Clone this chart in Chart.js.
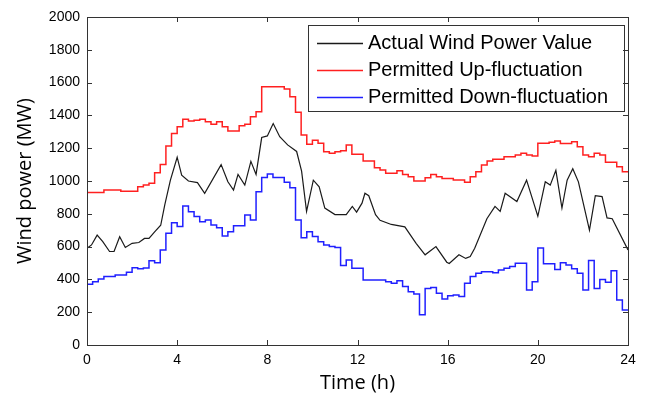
<!DOCTYPE html>
<html>
<head>
<meta charset="utf-8">
<script src="https://cdn.jsdelivr.net/npm/chart.js@4/dist/chart.umd.min.js"></script>
<style>
  html, body { margin: 0; padding: 0; background: #fff; }
  #wrap { width: 645px; height: 398px; }
</style>
</head>
<body>
<div id="wrap"><canvas id="wind"></canvas></div>
<script>
// Actual wind power (black line), hour / MW pairs
const actualHours = [0, 0.2, 0.45, 0.7, 1.0, 1.2, 1.45, 1.7, 2.0, 2.3, 2.55, 2.75, 3.0, 3.27, 3.45, 3.7,
    4.0, 4.2, 4.5, 4.9, 5.22, 5.95, 6.25, 6.5, 6.7, 7.0, 7.27, 7.5, 7.75, 8.0, 8.26, 8.55,
    8.9, 9.3, 9.52, 9.74, 10.04, 10.3, 10.55, 11.0, 11.5, 11.77, 11.96, 12.2, 12.33, 12.5, 12.8, 13.0,
    13.5, 14.1, 14.6, 15.0, 15.48, 15.96, 16.07, 16.5, 16.8, 17.0, 17.2, 17.74, 18.1, 18.33, 18.55, 19.07,
    19.5, 20.0, 20.33, 20.55, 20.8, 21.07, 21.3, 21.55, 21.8, 22.29, 22.55, 22.85, 23.07, 23.3, 24.0];
const actualValues = [590, 610, 670, 630, 570, 570, 660, 595, 620, 625, 650, 650, 690, 730, 855, 1005,
    1145, 1035, 1000, 990, 925, 1100, 995, 945, 1040, 975, 1120, 1040, 1265, 1275, 1350, 1270,
    1220, 1180, 1060, 815, 1005, 965, 835, 795, 795, 845, 810, 865, 925, 910, 795, 760,
    735, 720, 620, 550, 600, 505, 497, 550, 528, 540, 590, 770, 845, 815, 925, 875,
    1005, 785, 995, 975, 1065, 835, 1005, 1075, 995, 700, 910, 905, 775, 770, 580];

// Permitted up / down fluctuation, one value per 15 min step (96 steps)
const upValues = [930, 930, 930, 945, 945, 945, 937, 937, 937, 965, 975, 986,
    1050, 1100, 1213, 1290, 1331, 1376, 1366, 1371, 1376, 1362, 1346, 1362,
    1331, 1305, 1305, 1337, 1346, 1392, 1423, 1575, 1575, 1575, 1575, 1561,
    1514, 1419, 1280, 1224, 1248, 1230, 1179, 1169, 1179, 1185, 1220, 1163,
    1163, 1122, 1122, 1081, 1067, 1047, 1047, 1063, 1040, 1026, 1000, 1000,
    1020, 1040, 1026, 1016, 1016, 1006, 1006, 992, 1026, 1057, 1098, 1122,
    1132, 1132, 1148, 1148, 1158, 1169, 1158, 1152, 1230, 1230, 1236, 1244,
    1228, 1228, 1240, 1209, 1158, 1148, 1169, 1158, 1114, 1114, 1087, 1057];
const downValues = [370, 386, 402, 417, 417, 427, 427, 443, 471, 465, 470, 514,
    502, 579, 681, 746, 722, 848, 813, 783, 752, 762, 732, 715,
    665, 691, 727, 727, 793, 762, 935, 1022, 1043, 1022, 1022, 992,
    959, 762, 654, 691, 661, 630, 610, 600, 595, 484, 518, 468,
    468, 396, 396, 396, 396, 386, 376, 392, 356, 325, 311, 185,
    345, 350, 315, 280, 300, 305, 295, 376, 417, 437, 447, 447,
    441, 457, 468, 478, 498, 498, 335, 386, 592, 495, 495, 460,
    502, 488, 465, 437, 335, 516, 345, 400, 382, 452, 274, 213];
const stepHours = upValues.map((_, i) => i / 4).concat([24]);

const xTicks = [0, 4, 8, 12, 16, 20, 24];
const yTicks = [0, 200, 400, 600, 800, 1000, 1200, 1400, 1600, 1800, 2000];

const seriesNames = ['Actual Wind Power Value', 'Permitted Up-fluctuation', 'Permitted Down-fluctuation'];
const seriesColors = ['#1a1a1a', '#ff2020', '#2020ff'];

const pairs = (xs, ys) => xs.map((x, i) => ({ x, y: ys[Math.min(i, ys.length - 1)] }));

// MATLAB-like frame: box round the plot with inward ticks on every side
const framePlugin = {
    id: 'frame',
    afterDraw(chart) {
        const { ctx, chartArea: a, scales } = chart;
        ctx.save();
        ctx.strokeStyle = '#333';
        ctx.lineWidth = 1;
        ctx.strokeRect(a.left + 0.5, a.top + 0.5, a.right - a.left, a.bottom - a.top);
        ctx.beginPath();
        xTicks.forEach((v) => {
            const px = Math.round(scales.x.getPixelForValue(v)) + 0.5;
            ctx.moveTo(px, a.bottom); ctx.lineTo(px, a.bottom - 5);
            ctx.moveTo(px, a.top); ctx.lineTo(px, a.top + 5);
        });
        yTicks.forEach((v) => {
            const py = Math.round(scales.y.getPixelForValue(v)) + 0.5;
            ctx.moveTo(a.left, py); ctx.lineTo(a.left + 5, py);
            ctx.moveTo(a.right, py); ctx.lineTo(a.right - 5, py);
        });
        ctx.stroke();
        ctx.restore();
    },
};

// legend box in the upper right corner of the plot
const legendPlugin = {
    id: 'boxLegend',
    afterDatasetsDraw(chart) {
        const { ctx } = chart;
        const box = { x: 308.5, y: 25.5, w: 316, h: 86 };
        ctx.save();
        ctx.fillStyle = '#fff';
        ctx.fillRect(box.x, box.y, box.w, box.h);
        ctx.strokeStyle = '#333';
        ctx.lineWidth = 1;
        ctx.strokeRect(box.x, box.y, box.w, box.h);
        ctx.font = '20px "Liberation Sans", Arial, sans-serif';
        ctx.textBaseline = 'middle';
        chart.data.datasets.forEach((ds, i) => {
            const cy = 43 + i * 27;
            ctx.strokeStyle = ds.borderColor;
            ctx.lineWidth = 1.3;
            ctx.beginPath();
            ctx.moveTo(317, cy + 0.5); ctx.lineTo(363, cy + 0.5);
            ctx.stroke();
            ctx.fillStyle = '#000';
            ctx.fillText(ds.label, 368, cy);
        });
        ctx.restore();
    },
};

new Chart(document.getElementById('wind').getContext('2d'), {
    type: 'line',
    data: {
        datasets: [
            { label: seriesNames[0], data: pairs(actualHours, actualValues), borderColor: seriesColors[0], borderWidth: 1.2 },
            { label: seriesNames[1], data: pairs(stepHours, upValues), borderColor: seriesColors[1], borderWidth: 1.5, stepped: 'before' },
            { label: seriesNames[2], data: pairs(stepHours, downValues), borderColor: seriesColors[2], borderWidth: 1.5, stepped: 'before' },
        ],
    },
    plugins: [framePlugin, legendPlugin],
    options: {
        responsive: true,
        maintainAspectRatio: false,
        animation: false,
        layout: { padding: { left: 0, right: 17, top: 17, bottom: 0 } },
        elements: { point: { radius: 0 }, line: { tension: 0, fill: false } },
        plugins: { legend: { display: false }, tooltip: { enabled: false } },
        scales: {
            x: {
                type: 'linear', min: 0, max: 24,
                afterFit: (s) => { s.height = 53; },
                afterBuildTicks: (s) => { s.ticks = xTicks.map((v) => ({ value: v })); },
                grid: { display: false, drawTicks: false },
                border: { display: false },
                ticks: { color: '#000', padding: 7, callback: (v) => String(v),
                    font: { family: '"Liberation Sans", Arial', size: 14 } },
                title: { display: true, text: 'Time (h)', color: '#000', padding: { top: 0, bottom: 3 },
                    font: { family: '"Open Sans"', size: 20 } },
            },
            y: {
                min: 0, max: 2000,
                afterFit: (s) => { s.width = 87; },
                afterBuildTicks: (s) => { s.ticks = yTicks.map((v) => ({ value: v })); },
                grid: { display: false, drawTicks: false },
                border: { display: false },
                ticks: { color: '#000', padding: 7, callback: (v) => String(v),
                    font: { family: '"Liberation Sans", Arial', size: 14 } },
                title: { display: true, text: 'Wind power (MW)', color: '#000', padding: { top: 13, bottom: 0 },
                    font: { family: '"Open Sans"', size: 20 } },
            },
        },
    },
});
</script>
</body>
</html>
